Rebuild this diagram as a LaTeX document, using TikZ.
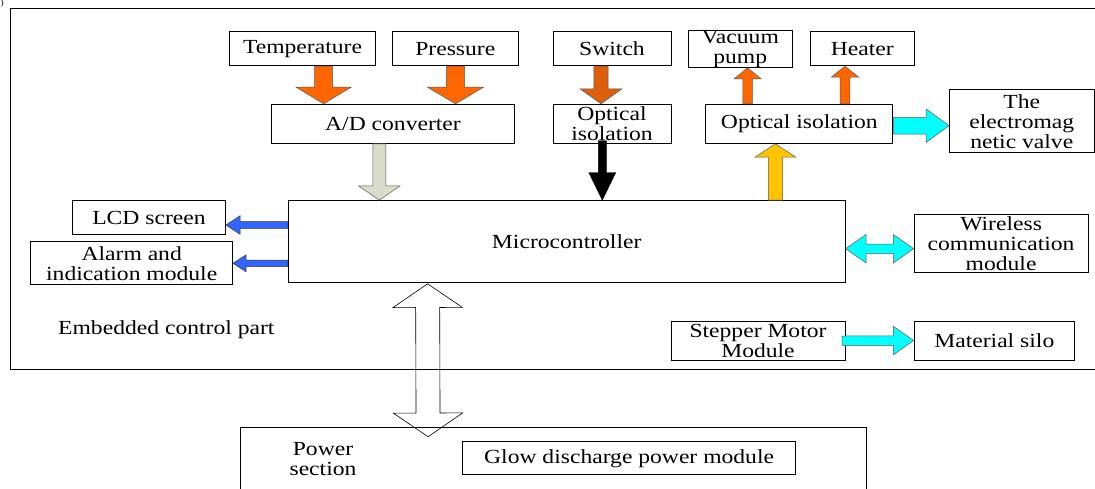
\documentclass[tikz,border=0pt]{standalone}
\usepackage{fontspec}
\setmainfont{Liberation Serif}[FakeStretch=1.18]
\usepackage{xcolor}
\usepackage{tikz}
\usetikzlibrary{calc}

\definecolor{sensorange}{HTML}{FF6600}
\definecolor{switchorange}{HTML}{DD5F0E}
\definecolor{adgrey}{HTML}{D9DCC9}
\definecolor{lcdblue}{HTML}{3366FF}
\definecolor{outyellow}{HTML}{FFC400}
\definecolor{valvecyan}{HTML}{00FFFF}

% block arrow: [style]{from}{to}{shaft half width}{head length}{head half width}
\newcommand{\fatarrow}[6][]{%
  \coordinate (fa-a) at (#2);
  \coordinate (fa-b) at (#3);
  \coordinate (fa-c) at ($(fa-b)!#5pt!(fa-a)$);
  \filldraw[#1] ($(fa-a)!#4pt!90:(fa-b)$) -- ($(fa-c)!#4pt!90:(fa-b)$)
    -- ($(fa-c)!#6pt!90:(fa-b)$) -- (fa-b) -- ($(fa-c)!#6pt!-90:(fa-b)$)
    -- ($(fa-c)!#4pt!-90:(fa-b)$) -- ($(fa-a)!#4pt!-90:(fa-b)$) -- cycle;
}
% block arrow with a head at both ends
\newcommand{\dblfatarrow}[6][]{%
  \coordinate (fa-a) at (#2);
  \coordinate (fa-b) at (#3);
  \coordinate (fa-c) at ($(fa-a)!#5pt!(fa-b)$);
  \coordinate (fa-d) at ($(fa-b)!#5pt!(fa-a)$);
  \draw[#1] (fa-a) -- ($(fa-c)!#6pt!90:(fa-b)$) -- ($(fa-c)!#4pt!90:(fa-b)$)
    -- ($(fa-d)!#4pt!-90:(fa-a)$) -- ($(fa-d)!#6pt!-90:(fa-a)$) -- (fa-b)
    -- ($(fa-d)!#6pt!90:(fa-a)$) -- ($(fa-d)!#4pt!90:(fa-a)$)
    -- ($(fa-c)!#4pt!-90:(fa-b)$) -- ($(fa-c)!#6pt!-90:(fa-b)$) -- cycle;
}

\begin{document}
\begin{tikzpicture}[x=1pt,y=-1pt,
    every node/.style={font=\fontsize{20}{20}\selectfont},
    box/.style={draw,line width=1pt,inner sep=0pt,align=center},
    fat/.style={draw=black!65,line width=0.5pt}]
  \useasboundingbox (0,0) rectangle (1095,488);

  % frames
  \node[box,minimum width=1110,minimum height=361,anchor=north west] (ctrl) at (10,8) {};
  \node[box,minimum width=626,minimum height=90,anchor=north west] (power) at (240,427) {};
  \node[anchor=north west,inner sep=0pt,font=\fontsize{8}{8}\selectfont] (cut) at (0.5,0) {)};
  \node[anchor=west,inner sep=0pt] (ctrllabel) at (58,330) {Embedded control part};
  \node[align=center,inner sep=0pt] (powerlabel) at (323,459) {Power\\section};

  % inputs
  \node[box,minimum width=145.6,minimum height=34] (temp) at (302.5,48.7) {Temperature};
  \node[box,minimum width=126.3,minimum height=34] (pres) at (455.3,48.7) {Pressure};
  \node[box,minimum width=243.8,minimum height=39] (adc) at (393,123.8) {A/D converter};
  \node[box,minimum width=118,minimum height=34] (switch) at (612,48.7) {Switch};
  \node[box,minimum width=118,minimum height=39] (opta) at (612,123.8) {Optical\\isolation};

  % outputs
  \node[box,minimum width=104.4,minimum height=34] (vac) at (740.2,48.7) {Vacuum\\pump};
  \node[box,minimum width=104.1,minimum height=34] (heater) at (862.2,48.7) {Heater};
  \node[box,minimum width=187.2,minimum height=39] (optb) at (799.3,123.8) {Optical isolation};
  \node[box,minimum width=144.4,minimum height=62.7] (valve) at (1021.8,121.3) {The\\electromag\\netic valve};

  % controller and peripherals
  \node[box,minimum width=556.8,minimum height=81.6] (mcu) at (566.7,241.5) {Microcontroller};
  \node[box,minimum width=153,minimum height=33.6] (lcd) at (149,217.5) {LCD screen};
  \node[box,minimum width=201.6,minimum height=43.3] (alarm) at (131.7,263.3) {Alarm and\\indication module};
  \node[box,minimum width=173.8,minimum height=57.7] (wireless) at (1001.1,243.8) {Wireless\\communication\\module};
  \node[box,minimum width=174,minimum height=39] (stepper) at (758,340.5) {Stepper Motor\\Module};
  \node[box,minimum width=160.3,minimum height=39] (silo) at (994.3,340.5) {Material silo};
  \node[box,minimum width=333.6,minimum height=33.3] (glow) at (629.1,458.3) {Glow discharge power module};

  % block arrows
  \fatarrow[fat,fill=sensorange]{[xshift=21.1pt]temp.south}{[xshift=-69.4pt]adc.north}{9}{16.6}{27.5}
  \fatarrow[fat,fill=sensorange]{[xshift=0.2pt]pres.south}{[xshift=62.5pt]adc.north}{9.2}{16.6}{28}
  \fatarrow[fat,fill=adgrey]{[xshift=-13.7pt]adc.south}{[xshift=-187.4pt]mcu.north}{6.5}{14.3}{20.7}
  \fatarrow[fat,fill=switchorange]{[xshift=-11pt]switch.south}{[xshift=-11pt]opta.north}{7.2}{15}{21}
  \fatarrow[fill=black]{[xshift=-9.7pt,yshift=3.3pt]opta.south}{[xshift=35.6pt]mcu.north}{4}{27.7}{13.5}
  \fatarrow[fat,fill=outyellow]{[xshift=208.7pt]mcu.north}{[xshift=-23.9pt]optb.south}{7.1}{13.4}{20.5}
  \fatarrow[fat,fill=sensorange]{[xshift=-51.7pt]optb.north}{[xshift=7.4pt]vac.south}{4.8}{11}{13.6}
  \fatarrow[fat,fill=sensorange]{[xshift=45.7pt]optb.north}{[xshift=-17.2pt]heater.south}{4.8}{11}{13.8}
  \fatarrow[fat,fill=valvecyan]{[yshift=-1.9pt]optb.east}{[yshift=-4.4pt]valve.west}{8.3}{23}{16.7}
  \fatarrow[draw=black!80,line width=0.5pt,fill=lcdblue]{[yshift=16.5pt]mcu.west}{[yshift=-7.5pt]lcd.east}{3.3}{14.1}{9.3}
  \fatarrow[draw=black!80,line width=0.5pt,fill=lcdblue]{[yshift=-21.8pt]mcu.west}{alarm.east}{3.3}{13}{8.4}
  \dblfatarrow[fat,fill=valvecyan]{[yshift=-7.2pt]mcu.east}{[yshift=-4.9pt]wireless.west}{4.7}{20.4}{14.2}
  \fatarrow[fat,fill=valvecyan]{[xshift=-3.5pt,yshift=-0.2pt]stepper.east}{silo.west}{4.7}{20.2}{14.2}
  \dblfatarrow[draw=black,line width=0.6pt]{[xshift=-139.1pt,yshift=-1pt]mcu.south}{[xshift=-125.4pt,yshift=-9.7pt]power.north}{12}{23.7}{34.7}
\end{tikzpicture}
\end{document}
